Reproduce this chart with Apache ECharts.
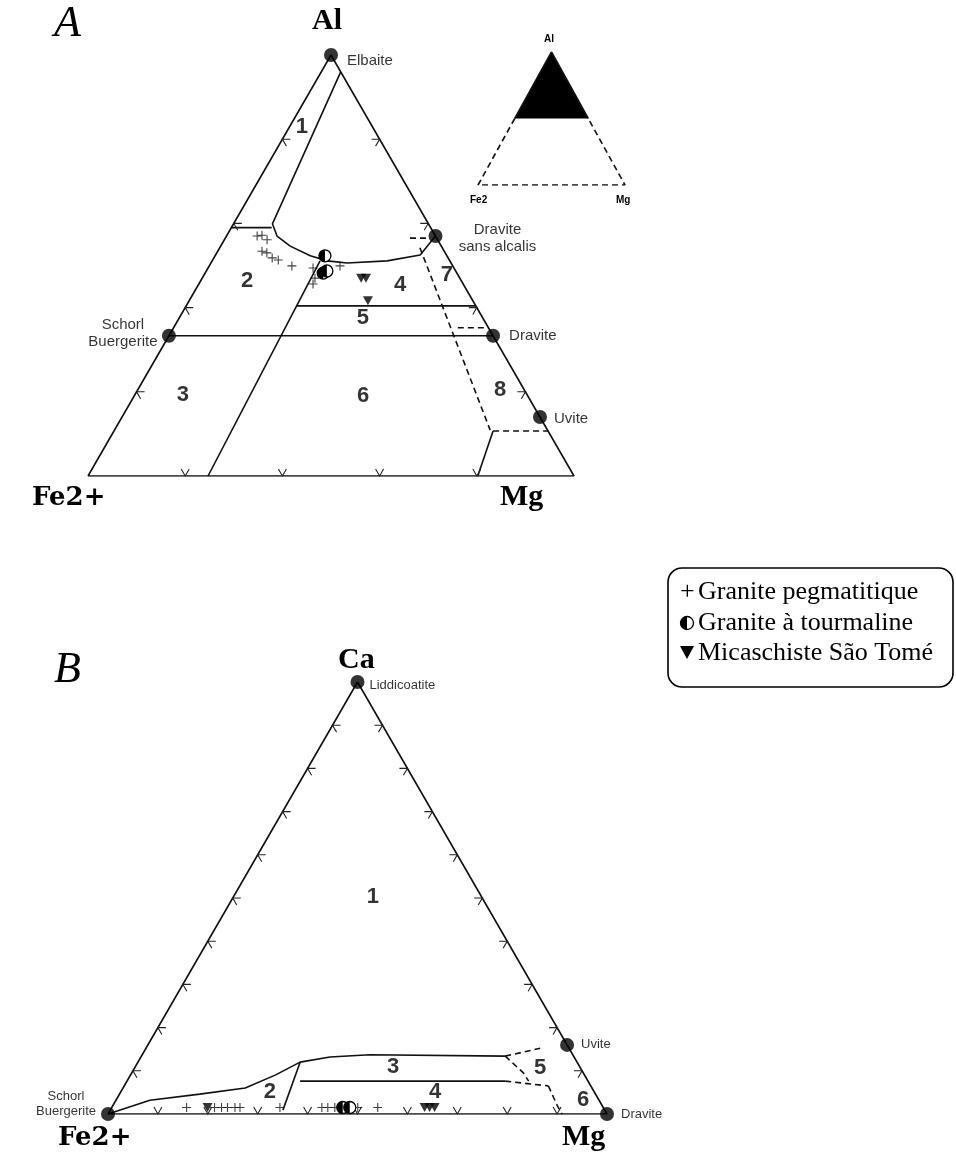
<!DOCTYPE html>
<html><head><meta charset="utf-8">
<script src="https://cdn.jsdelivr.net/npm/echarts@6/dist/echarts.min.js"></script>
<style>html,body{margin:0;padding:0;background:#fff}#c{width:956px;height:1157px}</style>
</head><body><div id="c"></div>
<script>
// ---------- DATA (ternary values, percent) ----------
// Diagram A : [Al, Mg]   (Fe2+ = 100 - Al - Mg)
const topVertexNames  = ['Elbaite', 'Dravite\nsans alcalis', 'Schorl\nBuergerite', 'Dravite', 'Uvite'];
const topVertexValues = [[100, 0], [57, 43], [33.3, 0], [33.3, 66.7], [14, 86]];
const topField1Curve  = [[96,4],[59.9,8.0],[57.0,10.4],[54.6,14.3],[52.3,19.6],[51.1,23.7],[50.6,28.0],[51.1,36.0],[52.5,42.1],[57,43]];
const topLeftShort    = [[59,0],[59,8.3]];
const topSchorlDravite= [[33.3,0],[33.3,66.7]];
const topField5Top    = [[40.4,22.7],[40.4,59.6]];
const topDiagonal     = [[0,24.7],[51.1,22.2]];
const topUviteSolid   = [[10.7,78],[0,80.2]];
const topDashed = [
  [[54.2,41.2],[10.9,77.3]],
  [[56.5,38],[56.5,42]],
  [[35.2,58.5],[35.2,64.8]],
  [[10.7,78],[10.7,89.3]]
];
const topFieldNames  = ['1','2','3','4','5','6','7','8'];
const topFieldValues = [[83,2.5],[46.3,9.6],[19.2,9.9],[45.4,41.5],[37.5,37.8],[19.0,47.1],[47.7,50.0],[20.4,74.6]];
const topTicks = [20, 40, 60, 80];
const topGranitePeg = [[57.0,6.3],[56.1,8.8],[57.2,7.2],[53.4,9.1],[53.0,10.3],[51.8,12.0],[51.3,13.5],[49.9,17.0],[49.4,21.6],[47.0,23.2],[45.6,23.5],[49.9,26.9]];
const topGraniteTour = [[52.3,22.6],[48.2,24.3],[48.7,24.8]];
const topMicaschiste = [[47.0,32.7],[47.0,33.7],[41.6,36.8]];

// Diagram B : [Ca, Mg]   (Fe2+ = 100 - Ca - Mg)
const botVertexNames  = ['Liddicoatite', 'Uvite', 'Schorl\nBuergerite', 'Dravite'];
const botVertexValues = [[100, 0], [16, 84], [0, 0], [0, 100]];
const botCurve2   = [[0,0],[3.2,6.8],[4.6,16.1],[6.0,24.5],[9.0,29.0],[12.0,32.5],[13.2,37.9],[13.7,45.6],[13.4,72.9]];
const botLine24   = [[12.0,32.5],[0.9,34.6]];
const botLine34   = [[7.6,34.7],[7.6,75.8]];
const botDashed = [
  [[13.4,72.9],[15.2,79.0]],
  [[13.4,72.9],[9.5,78.5],[7.6,80.5]],
  [[7.6,75.8],[6.5,85.0]],
  [[6.5,85.0],[2.0,89.0],[0,91]]
];
const botFieldNames  = ['1','2','3','4','5','6'];
const botFieldValues = [[50.2,28.0],[5.1,29.9],[10.9,51.7],[5.1,63.0],[10.6,81.3],[3.2,93.6]];
const botTicks = [10, 20, 30, 40, 50, 60, 70, 80, 90];
const botGranitePeg = [[1.5,15.0],[1.5,20.6],[1.5,22.0],[1.5,23.2],[1.5,24.7],[1.5,25.7],[1.5,33.7],[1.5,42.1],[1.5,43.3],[1.5,44.7],[1.5,49.3],[1.5,53.3]];
const botGraniteTour = [[1.5,46.3],[1.5,47.7]];
const botMicaschiste = [[1.5,19.2],[1.5,62.7],[1.5,63.7],[1.5,64.7]];

// Inset : [Al, Mg] in the full Al–Fe2–Mg triangle
const insetBlack = [[50,0],[50,50],[100,0]];

// Legend entries
const legendNames = ['Granite pegmatitique', 'Granite à tourmaline', 'Micaschiste São Tomé'];

// ---------- helpers ----------
const H = Math.sqrt(3) / 2;
const cart = t => [t[1] + t[0] / 2, t[0] * H];
const line = (pts, gi, dashed) => ({
  type: 'line', xAxisIndex: gi, yAxisIndex: gi, data: pts.map(cart), symbol: 'none',
  lineStyle: { color: '#111', width: 1.6, type: dashed ? [6, 4] : 'solid' }, silent: true, z: 2
});
function tickData(fr) {
  const d = [];
  fr.forEach(f => { d.push([...cart([f, 0]), 0]); d.push([...cart([f, 100 - f]), 1]); d.push([...cart([0, f]), 2]); });
  return d;
}
function tickRender(params, api) {
  const p = api.coord([api.value(0), api.value(1)]);
  const e = api.value(2), L = 8;
  let a;
  if (e === 0) a = [[L, 0], [L * 0.5, L * H]];
  else if (e === 1) a = [[-L, 0], [-L * 0.5, L * H]];
  else a = [[-L * 0.5, -L * H], [L * 0.5, -L * H]];
  return { type: 'polyline', shape: { points: [[p[0] + a[0][0], p[1] + a[0][1]], p, [p[0] + a[1][0], p[1] + a[1][1]]] },
           style: { stroke: '#222', fill: null, lineWidth: 1.1 } };
}
const cross = 'path://M5,0L5,10M0,5L10,5';
const tri = 'path://M0,0L10,0L5,9Z';
function halfCircleShape(cx, cy, r) {
  return [
    { type: 'circle', shape: { cx: cx, cy: cy, r: r }, style: { fill: '#fff', stroke: '#000', lineWidth: 1.3 } },
    { type: 'sector', shape: { cx: cx, cy: cy, r: r, r0: 0, startAngle: Math.PI / 2, endAngle: Math.PI * 1.5 }, style: { fill: '#000' } }
  ];
}
function halfCircle(params, api) {
  const p = api.coord([api.value(0), api.value(1)]);
  return { type: 'group', children: halfCircleShape(p[0], p[1], 6) };
}
function pointSeries(gi, peg, tour, mica) {
  return [
    { type: 'scatter', xAxisIndex: gi, yAxisIndex: gi, data: peg.map(cart), symbol: cross, symbolSize: 9,
      itemStyle: { color: 'none', borderColor: '#111', borderWidth: 1.1 }, z: 5 },
    { type: 'custom', xAxisIndex: gi, yAxisIndex: gi, data: tour.map(cart), renderItem: halfCircle, z: 6 },
    { type: 'scatter', xAxisIndex: gi, yAxisIndex: gi, data: mica.map(cart), symbol: tri, symbolSize: [10, 9],
      itemStyle: { color: '#000' }, z: 6 }
  ];
}
const sans = 'Liberation Sans, Arial, sans-serif';
const serif = 'Liberation Serif, Times New Roman, serif';
const wideSerif = 'DejaVu Serif, Liberation Serif, serif';
function vertexSeries(gi, names, vals, labelCfg, fs) {
  return { type: 'scatter', xAxisIndex: gi, yAxisIndex: gi, symbol: 'circle', symbolSize: 14,
    itemStyle: { color: '#000' }, z: 7,
    data: vals.map((v, i) => ({ value: cart(v), name: names[i], label: labelCfg[i] })),
    label: { show: true, formatter: '{b}', color: '#000', fontFamily: sans, fontSize: fs, lineHeight: fs + 2 } };
}
function fieldSeries(gi, names, vals) {
  return { type: 'scatter', xAxisIndex: gi, yAxisIndex: gi, symbolSize: 0,
    data: vals.map((v, i) => ({ value: cart(v), name: names[i] })),
    label: { show: true, position: 'inside', formatter: '{b}', color: '#000', fontFamily: sans, fontWeight: 'bold', fontSize: 22 }, z: 4 };
}

const grids = [
  { left: 88, top: 55, width: 486, height: 421 },
  { left: 108, top: 682, width: 499, height: 432 },
  { left: 478, top: 52, width: 147, height: 133 }
];
const xAxes = grids.map((g, i) => ({ gridIndex: i, type: 'value', min: 0, max: 100, show: false }));
const yAxes = grids.map((g, i) => ({ gridIndex: i, type: 'value', min: 0, max: 100 * H, show: false }));

const series = [];
// --- Diagram A
series.push(line([[0,0],[0,100],[100,0],[0,0]], 0));
series.push(line(topField1Curve, 0));
series.push(line(topLeftShort, 0));
series.push(line(topSchorlDravite, 0));
series.push(line(topField5Top, 0));
series.push(line(topDiagonal, 0));
series.push(line(topUviteSolid, 0));
topDashed.forEach(d => series.push(line(d, 0, true)));
series.push({ type: 'custom', xAxisIndex: 0, yAxisIndex: 0, data: tickData(topTicks), renderItem: tickRender, z: 3 });
series.push(...pointSeries(0, topGranitePeg, topGraniteTour, topMicaschiste));
series.push(vertexSeries(0, topVertexNames, topVertexValues, [
  { position: 'right', offset: [4, 6] },
  { position: 'right', align: 'center', offset: [50, 2] },
  { position: 'left', align: 'center', offset: [-34, -2] },
  { position: 'right', offset: [4, 0] },
  { position: 'right', offset: [2, 2] }
], 15));
series.push(fieldSeries(0, topFieldNames, topFieldValues));
// --- Diagram B
series.push(line([[0,0],[0,100],[100,0],[0,0]], 1));
series.push(line(botCurve2, 1));
series.push(line(botLine24, 1));
series.push(line(botLine34, 1));
botDashed.forEach(d => series.push(line(d, 1, true)));
series.push({ type: 'custom', xAxisIndex: 1, yAxisIndex: 1, data: tickData(botTicks), renderItem: tickRender, z: 3 });
series.push(...pointSeries(1, botGranitePeg, botGraniteTour, botMicaschiste));
series.push(vertexSeries(1, botVertexNames, botVertexValues, [
  { position: 'right', offset: [0, 3] },
  { position: 'right', offset: [2, 0] },
  { position: 'left', align: 'center', offset: [-30, -10] },
  { position: 'right', offset: [2, 0] }
], 13));
series.push(fieldSeries(1, botFieldNames, botFieldValues));
// --- Inset
series.push({ type: 'custom', xAxisIndex: 2, yAxisIndex: 2, data: [[0, 0]], z: 2,
  renderItem: (p, api) => ({ type: 'polygon', shape: { points: insetBlack.map(t => api.coord(cart(t))) }, style: { fill: '#000' } }) });
series.push(line([[50,0],[0,0],[0,100],[50,50]], 2, true));
series.push(line([[50,0],[100,0],[50,50]], 2));

// legend (box + marks + real text)
const LX = 668, LY = 568;
const graphic = [
  { type: 'text', left: 54, top: 2, style: { text: 'A', font: 'italic 44px ' + serif, fill: '#000' } },
  { type: 'text', left: 312, top: 6, style: { text: 'Al', font: 'bold 30px ' + serif, fill: '#000' } },
  { type: 'text', left: 32, top: 485, style: { text: 'Fe2+', font: 'bold 26px ' + wideSerif, fill: '#000' } },
  { type: 'text', left: 500, top: 482, style: { text: 'Mg', font: 'bold 30px ' + serif, fill: '#000' } },
  { type: 'text', left: 544, top: 34, style: { text: 'Al', font: 'bold 10px ' + sans, fill: '#000' } },
  { type: 'text', left: 470, top: 195, style: { text: 'Fe2', font: 'bold 10px ' + sans, fill: '#000' } },
  { type: 'text', left: 616, top: 195, style: { text: 'Mg', font: 'bold 10px ' + sans, fill: '#000' } },
  { type: 'text', left: 54, top: 648, style: { text: 'B', font: 'italic 44px ' + serif, fill: '#000' } },
  { type: 'text', left: 338, top: 645, style: { text: 'Ca', font: 'bold 30px ' + serif, fill: '#000' } },
  { type: 'text', left: 58, top: 1125, style: { text: 'Fe2+', font: 'bold 26px ' + wideSerif, fill: '#000' } },
  { type: 'text', left: 562, top: 1122, style: { text: 'Mg', font: 'bold 30px ' + serif, fill: '#000' } },
  { type: 'rect', shape: { x: LX, y: LY, width: 285, height: 119, r: 14 }, style: { fill: '#fff', stroke: '#000', lineWidth: 1.6 } },
  { type: 'text', x: LX + 12, y: LY + 24, style: { text: '+', font: '26px ' + serif, fill: '#000', textVerticalAlign: 'middle' } },
  { type: 'group', children: halfCircleShape(LX + 19, LY + 55, 6.5) },
  { type: 'polygon', shape: { points: [[LX + 12, LY + 78], [LX + 26, LY + 78], [LX + 19, LY + 91]] }, style: { fill: '#000' } },
  { type: 'text', x: LX + 30, y: LY + 24, style: { text: legendNames[0], font: '26px ' + serif, fill: '#000', textVerticalAlign: 'middle' } },
  { type: 'text', x: LX + 30, y: LY + 55, style: { text: legendNames[1], font: '26px ' + serif, fill: '#000', textVerticalAlign: 'middle' } },
  { type: 'text', x: LX + 30, y: LY + 85, style: { text: legendNames[2], font: '26px ' + serif, fill: '#000', textVerticalAlign: 'middle' } }
];

const chart = echarts.init(document.getElementById('c'));
chart.setOption({ animation: false, backgroundColor: '#fff', grid: grids, xAxis: xAxes, yAxis: yAxes, series: series, graphic: graphic });
</script></body></html>
